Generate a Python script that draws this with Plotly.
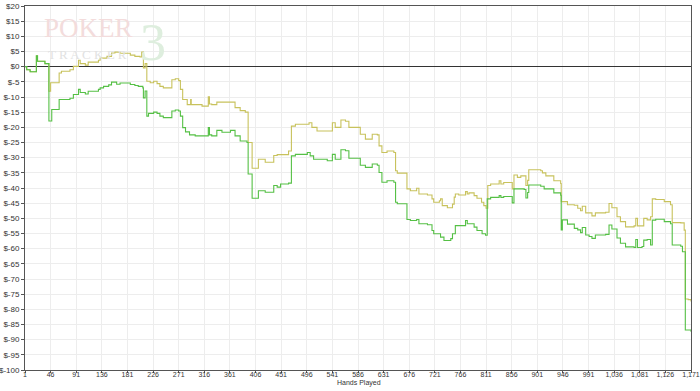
import plotly.graph_objects as go

# Hands played (x) and cumulative winnings in dollars for each line
green_hands = [1, 4, 10, 21, 23, 36, 43, 48, 61, 80, 86, 95, 98, 107, 112, 130, 133, 139, 148, 153, 162, 168, 186, 194, 200, 208, 209, 212, 215, 218, 227, 233, 238, 244, 259, 265, 271, 274, 278, 283, 290,
               300, 323, 325, 329, 338, 347, 362, 370, 379, 391, 393, 400, 411, 423, 438, 444, 450, 464, 469, 476, 497, 502, 508, 532, 541, 546, 556, 564, 570, 590, 599, 611, 620, 623,
               628, 637, 649, 652, 655, 672, 678, 689, 693, 708, 716, 719, 731, 737, 749, 752, 757, 775, 778, 790, 795, 804, 810, 813, 819, 834, 837, 842, 857, 860, 878, 881, 884, 886, 907, 913, 930,
               942, 943, 945, 954, 966, 972, 977, 980, 986, 992, 997, 1003, 1021, 1027, 1032, 1041, 1047, 1056, 1071, 1074, 1077, 1085, 1088, 1094, 1100, 1103, 1109, 1124, 1135, 1138, 1153, 1156, 1161, 1171]
green_vals = [0, -1.0, -1.7, 3.6, 1.8, 1.0, -17.9, -14.1, -10.8, -10.4, -9.2, -7.5, -8.5, -9.0, -8.1, -7.5, -7.0, -6.5, -6.0, -5.1, -5.8, -5.4, -5.9, -6.2, -6.5, -7.0, -10.3, -8.0, -16.3, -15.4, -15.0, -15.4, -16.3, -16.8, -14.6, -14.3, -14.6, -16.3, -20.1, -21.5, -22.5,
              -22.8, -20.1, -22.5, -22.8, -21.0, -21.6, -21.0, -22.8, -24.5, -25.0, -35.4, -43.4, -40.9, -41.4, -39.2, -39.7, -38.7, -38.4, -29.4, -28.9, -28.3, -29.4, -30.5, -31.0, -28.9, -30.5, -27.4, -27.7, -30.2, -32.5, -33.2, -32.1, -32.5, -34.9,
              -38.1, -37.6, -38.1, -44.7, -45.2, -50.4, -50.7, -50.4, -51.8, -52.1, -54.0, -55.1, -56.2, -57.3, -56.7, -55.1, -52.4, -50.7, -51.8, -52.9, -54.0, -55.1, -55.6, -43.6, -43.1, -42.5, -43.1, -42.8, -44.9, -40.3, -40.5, -43.3, -41.5, -39.0, -39.4, -40.3, -41.6,
              -42.4, -53.8, -50.5, -51.9, -53.3, -53.8, -54.7, -53.0, -55.5, -56.0, -56.6, -55.5, -55.3, -52.2, -53.5, -56.5, -58.2, -59.4, -59.6, -57.0, -59.6, -59.3, -57.2, -57.0, -58.8, -50.6, -50.3, -51.1, -51.8, -58.8, -59.2, -61.0, -86.8, -87.4]

yellow_hands = [1, 4, 10, 21, 23, 36, 43, 46, 61, 65, 80, 86, 95, 98, 107, 112, 130, 133, 145, 153, 159, 168, 186, 194, 203, 206, 209, 212, 215, 221, 227, 233, 238, 244, 259, 265, 271, 274, 278, 286, 292, 293, 312,
                323, 325, 329, 338, 362, 370, 379, 388, 393, 400, 411, 423, 438, 444, 464, 469, 476, 500, 505, 514, 535, 541, 546, 556, 564, 570, 590, 599, 611, 620, 623,
                628, 637, 649, 652, 655, 672, 678, 689, 693, 708, 716, 719, 729, 731, 734, 743, 752, 755, 757, 763, 775, 778, 781, 790, 795, 803, 807, 811, 814, 819, 834, 837, 842, 857, 860, 866, 872, 881, 884, 886, 907, 910, 916, 930,
                942, 943, 954, 966, 972, 977, 980, 986, 997, 1003, 1021, 1027, 1032, 1041, 1047, 1056, 1071, 1074, 1077, 1085, 1088, 1094, 1100, 1103, 1109, 1124, 1135, 1138, 1153, 1159, 1161, 1166, 1171]
yellow_vals = [0, -1.0, -1.7, 3.6, 1.8, 1.0, -8.1, -5.3, -2.1, -1.5, -1.0, 0.1, 2.1, 1.0, 0.5, 1.5, 2.1, 2.8, 3.4, 4.5, 4.8, 4.4, 3.8, 3.4, 3.2, 4.8, -0.4, 1.0, -4.8, -5.3, -4.8, -5.6, -6.5, -7.0, -4.3, -4.0, -4.6, -7.5, -10.8, -12.5, -10.8, -12.5, -13.0,
               -9.9, -12.3, -12.5, -11.7, -11.7, -13.5, -14.5, -15.0, -25.0, -33.5, -30.5, -31.5, -29.3, -29.0, -27.8, -19.6, -19.0, -18.5, -20.0, -21.2, -21.2, -18.5, -20.0, -17.6, -18.0, -20.0, -22.3, -23.9, -22.3, -22.5, -26.1,
               -28.3, -27.8, -28.3, -34.3, -35.1, -40.3, -40.9, -40.1, -42.0, -42.3, -43.6, -44.7, -44.2, -43.6, -45.8, -46.5, -45.3, -43.0, -42.0, -42.3, -41.2, -42.0, -41.6, -42.5, -43.4, -44.7, -45.8, -46.7, -39.2, -38.7, -37.6, -38.7, -38.2, -40.3, -35.7, -36.5, -36.0, -39.2, -37.5, -34.0, -34.3, -35.0, -36.0, -37.6,
               -38.5, -44.5, -45.5, -45.7, -46.7, -47.5, -46.0, -48.2, -49.2, -48.2, -48.0, -45.1, -46.5, -49.5, -51.1, -52.8, -52.5, -50.0, -52.5, -52.5, -50.0, -50.5, -49.5, -43.6, -43.8, -44.5, -45.5, -51.4, -51.5, -53.9, -76.6, -76.8, -77.4]

x_ticks = [1, 46, 91, 136, 181, 226, 271, 316, 361, 406, 451, 496, 541, 586, 631, 676, 721, 766, 811, 856, 901, 946, 991, 1036, 1081, 1126, 1171]
y_ticks = list(range(-100, 25, 5))

fig = go.Figure()

# watermark
fig.add_annotation(xref="paper", yref="paper", x=0.0946, y=0.9395, xanchor="center", yanchor="middle", text="POKER", showarrow=False,
                   font=dict(family="Liberation Serif", size=27, color="#f3dcdc"), borderpad=0)
fig.add_annotation(xref="paper", yref="paper", x=0.094, y=0.868, xanchor="center", yanchor="middle", text="T R A C K E R", showarrow=False,
                   font=dict(family="Liberation Serif", size=13, color="#e2e2e2"), borderpad=0)
fig.add_annotation(xref="paper", yref="paper", x=0.192, y=0.90, xanchor="center", yanchor="middle", text="3", showarrow=False,
                   font=dict(family="Liberation Serif", size=52, color="#deeede"), borderpad=0)

# x-axis title
fig.add_annotation(xref="paper", yref="paper", x=0.5015, y=-0.036, xanchor="center", yanchor="middle", text="Hands Played", showarrow=False,
                   font=dict(family="Liberation Sans", size=7, color="#333333"))

fig.add_trace(go.Scatter(x=yellow_hands, y=yellow_vals, mode="lines", line=dict(color="#c8c25c", width=1.1, shape="hv"), showlegend=False, hoverinfo="skip"))
fig.add_trace(go.Scatter(x=green_hands, y=green_vals, mode="lines", line=dict(color="#55c045", width=1.1, shape="hv"), showlegend=False, hoverinfo="skip"))

fig.update_layout(
    width=700, height=391,
    margin=dict(l=25, r=9, t=6, b=21),
    paper_bgcolor="white", plot_bgcolor="white",
    font=dict(family="Liberation Sans", size=8, color="#333333"),
    xaxis=dict(range=[1, 1171], tickvals=x_ticks, ticktext=[f"{v:,}" for v in x_ticks],
               showgrid=True, gridcolor="#ededed", gridwidth=1, zeroline=False,
               showline=True, linecolor="#555555", linewidth=1, mirror=True,
               ticks="outside", ticklen=2, tickcolor="#555555", automargin=False,
               tickfont=dict(size=7),
               ticklabeloverflow="allow", ticklabelstandoff=-4),
    yaxis=dict(range=[-100, 20], tickvals=y_ticks, ticktext=[f"${v}" for v in y_ticks],
               showgrid=True, gridcolor="#ededed", gridwidth=1,
               zeroline=True, zerolinecolor="#333333", zerolinewidth=1,
               showline=True, linecolor="#555555", linewidth=1, mirror=True,
               ticks="outside", ticklen=3, tickcolor="#555555", automargin=False,
               ticklabeloverflow="allow"),
)

fig.write_html("out.html")
